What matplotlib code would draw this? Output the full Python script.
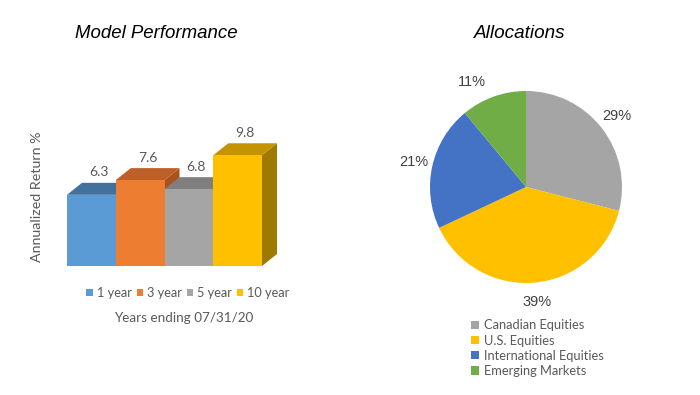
import matplotlib.pyplot as plt
from matplotlib.patches import Polygon

periods = ['1 year', '3 year', '5 year', '10 year']
returns = [6.3, 7.6, 6.8, 9.8]
front_colors = ['#5B9BD5', '#ED7D31', '#A5A5A5', '#FFC000']
top_colors = ['#41719C', '#BE5F27', '#7F7F7F', '#C49400']
side_colors = ['#3A6690', '#A85220', '#6E6E6E', '#9E7A00']

sectors = ['Canadian Equities', 'U.S. Equities', 'International Equities', 'Emerging Markets']
weights = [29, 39, 21, 11]
pie_colors = ['#A5A5A5', '#FFC000', '#4472C4', '#70AD47']

W, H = 700, 395
txt = '#595959'
body_font = ['Lato', 'DejaVu Sans']
arial = ['Liberation Sans', 'DejaVu Sans']

fig = plt.figure(figsize=(7, 3.95), dpi=100)


def px_axes(x0, y0, x1, y1):
    # pixel box (top-left origin) -> figure axes
    return fig.add_axes([x0 / W, 1 - y1 / H, (x1 - x0) / W, (y1 - y0) / H])


# ---- left: 3D-ish bar chart ----
ax = px_axes(67, 110, 290, 266)
ppu_x = 48.75
ppu_y = 11.3
ax.set_xlim(-0.5, -0.5 + 223 / ppu_x)
ax.set_ylim(0, 156 / ppu_y)
dx = 15 / ppu_x
dy = 12 / ppu_y

handles = []
for i, v in enumerate(returns):
    l, r = i - 0.5, i + 0.5
    side = Polygon([(r, 0), (r + dx, dy), (r + dx, v + dy), (r, v)],
                   closed=True, fc=side_colors[i], ec='none', zorder=2 + 3 * i)
    top = Polygon([(l, v), (l + dx, v + dy), (r + dx, v + dy), (r, v)],
                  closed=True, fc=top_colors[i], ec='none', zorder=3 + 3 * i)
    ax.add_patch(side)
    ax.add_patch(top)
    b = ax.bar(i, v, width=1.0, color=front_colors[i], zorder=4 + 3 * i,
               label=periods[i])
    handles.append(b)
    ax.text(i + dx / 2, v + dy + 0.4, f'{v:.1f}', ha='center', va='bottom',
            fontsize=10, color=txt, family=body_font, zorder=20)

ax.axis('off')

fig.text(37 / W, 1 - 197 / H, 'Annualized Return %', rotation=90, ha='center',
         va='center', fontsize=10.3, color=txt, family=body_font)
fig.text(184 / W, 1 - 318 / H, 'Years ending 07/31/20', ha='center', va='center',
         fontsize=9.7, color=txt, family=body_font)
fig.legend(handles=handles, labels=periods, loc='center',
           bbox_to_anchor=(188 / W, 1 - 293 / H), ncol=4, frameon=False,
           handlelength=0.5, handleheight=0.5, handletextpad=0.3,
           columnspacing=0.4, prop={'family': body_font, 'size': 9.2},
           labelcolor=txt)
fig.text(156 / W, 1 - 34 / H, 'Model Performance', ha='center', va='center',
         fontsize=13.4, style='italic', family=arial, color='black')

# ---- right: pie ----
pax = px_axes(430, 91, 622, 283)
wedges, _, pcts = pax.pie(weights, colors=pie_colors, startangle=90,
                          counterclock=False, radius=1,
                          autopct='%d%%', pctdistance=1.2,
                          wedgeprops={'linewidth': 0})
for t in pcts:
    t.set_fontsize(10.5)
    t.set_color('#404040')
    t.set_family(arial)
# Office's best-fit puts the small slice label a little further left
x11, y11 = pcts[3].get_position()
pcts[3].set_position((x11 - 0.16, y11 - 0.04))
pax.set_xlim(-1, 1)
pax.set_ylim(-1, 1)
pax.set_aspect('equal')

fig.legend(handles=wedges, labels=sectors, loc='upper left',
           bbox_to_anchor=(465 / W, 1 - 313 / H), frameon=False,
           handlelength=0.6, handleheight=0.6, handletextpad=0.4,
           labelspacing=0.25, borderpad=0,
           prop={'family': body_font, 'size': 9.3}, labelcolor=txt)
fig.text(520 / W, 1 - 34 / H, 'Allocations', ha='center', va='center',
         fontsize=13.6, style='italic', family=arial, color='black')

fig.savefig('out.png', dpi=100)
